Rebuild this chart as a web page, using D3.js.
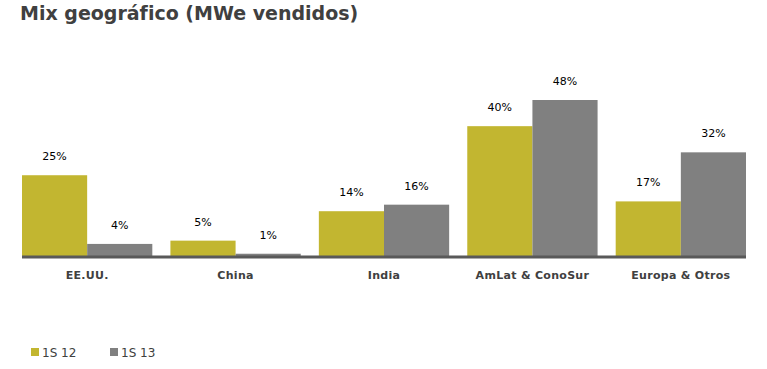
<!DOCTYPE html>
<html lang="es">
<head>
<meta charset="utf-8">
<title>Mix geográfico</title>
<script src="https://cdn.jsdelivr.net/npm/d3@7"></script>
<style>
  body { margin: 0; background: #fff; }
  svg text { font-family: "DejaVu Sans", Verdana, sans-serif; }
</style>
</head>
<body>
<div id="chart"></div>
<script>
// datos
var categories = ['EE.UU.', 'China', 'India', 'AmLat & ConoSur', 'Europa & Otros'];
var series = ['1S 12', '1S 13'];
var values12 = [25, 5, 14, 40, 17];
var values13 = [4, 1, 16, 48, 32];
var colors = ['#c2b630', '#808080'];

var width = 767, height = 369;
var svg = d3.select('#chart').append('svg')
  .attr('width', width).attr('height', height);

svg.append('text')
  .attr('x', 20).attr('y', 20)
  .attr('font-size', 19).attr('font-weight', 'bold')
  .attr('fill', '#404040')
  .text('Mix geográfico (MWe vendidos)');

var baseY = 257;
var x = d3.scaleBand().domain(categories).range([22, 746]).paddingInner(0.122).paddingOuter(0);
var xs = d3.scaleBand().domain(series).range([0, x.bandwidth()]);
var y = d3.scaleLinear().domain([0, 48]).range([baseY, 100]);

var rows = categories.map(function(c, i) {
  return { cat: c, vals: [values12[i], values13[i]] };
});

var g = svg.selectAll('g.grp').data(rows).enter().append('g')
  .attr('class', 'grp')
  .attr('transform', function(d) { return 'translate(' + x(d.cat) + ',0)'; });

g.selectAll('rect').data(function(d) { return d.vals; }).enter().append('rect')
  .attr('x', function(d, i) { return xs(series[i]); })
  .attr('y', function(d) { return y(d); })
  .attr('width', xs.bandwidth())
  .attr('height', function(d) { return baseY - y(d); })
  .attr('fill', function(d, i) { return colors[i]; });

g.selectAll('text.val').data(function(d) { return d.vals; }).enter().append('text')
  .attr('class', 'val')
  .attr('x', function(d, i) { return xs(series[i]) + xs.bandwidth() / 2; })
  .attr('y', function(d) { return y(d) - 15; })
  .attr('text-anchor', 'middle')
  .attr('font-size', 11).attr('fill', '#000')
  .text(function(d) { return d + '%'; });

// eje
svg.append('line')
  .attr('x1', 22).attr('x2', x(categories[4]) + x.bandwidth())
  .attr('y1', baseY).attr('y2', baseY)
  .attr('stroke', '#595959').attr('stroke-width', 3);

svg.selectAll('text.cat').data(categories).enter().append('text')
  .attr('class', 'cat')
  .attr('x', function(d) { return x(d) + x.bandwidth() / 2; })
  .attr('y', 279)
  .attr('text-anchor', 'middle')
  .attr('font-size', 11).attr('font-weight', 'bold')
  .attr('letter-spacing', 0.3)
  .attr('fill', '#404040')
  .text(function(d) { return d; });

// leyenda
var legX = [31, 110];
var leg = svg.selectAll('g.leg').data(series).enter().append('g')
  .attr('class', 'leg')
  .attr('transform', function(d, i) { return 'translate(' + legX[i] + ',348)'; });
leg.append('rect').attr('width', 8).attr('height', 8)
  .attr('fill', function(d, i) { return colors[i]; });
leg.append('text').attr('x', 11).attr('y', 9)
  .attr('font-size', 12).attr('fill', '#404040')
  .text(function(d) { return d; });
</script>
</body>
</html>
